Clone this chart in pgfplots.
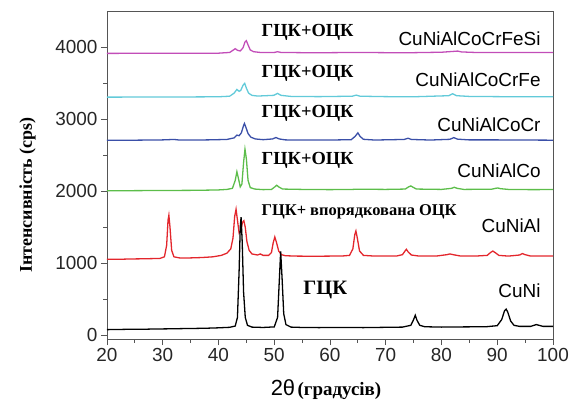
\documentclass[border=0pt]{standalone}
\usepackage{fontspec}
\setmainfont{Liberation Serif}
\setsansfont{Liberation Sans}
\usepackage{pgfplots}
\pgfplotsset{compat=1.18}

\definecolor{cCuNi}{HTML}{000000}
\definecolor{cAl}{HTML}{E3262C}
\definecolor{cCo}{HTML}{5CBD4A}
\definecolor{cCr}{HTML}{3A4FA8}
\definecolor{cFe}{HTML}{62CAD9}
\definecolor{cSi}{HTML}{C24DB8}
\definecolor{axgray}{HTML}{555555}

\newcommand{\lbl}{\bfseries\fontsize{18.5}{20}\selectfont}
\newcommand{\alloy}{\sffamily\fontsize{19}{21}\selectfont}

\begin{document}
\begin{tikzpicture}
\begin{axis}[
    name=ax,
    width=446bp, height=328bp,
    scale only axis,
    clip=false,
    axis lines=box,
    xmin=20, xmax=100,
    ymin=-50, ymax=4500,
    xtick={20,30,...,100},
    ytick={0,1000,2000,3000,4000},
    minor x tick num=1,
    minor y tick num=1,
    xtick pos=bottom, ytick pos=left,
    tick align=outside,
    major tick length=6bp,
    minor tick length=3.5bp,
    axis line style={draw=axgray, line width=0.9pt},
    tick style={axgray, line width=0.9pt},
    ticklabel style={font=\sffamily\fontsize{19}{21}\selectfont, text=black!85},
    xlabel={{\sffamily\fontsize{22}{24}\selectfont 2θ} {\bfseries\fontsize{19}{21}\selectfont (градусів)}},
    xlabel style={at={(rel axis cs:0.491,-0.155)}, anchor=center},
    ylabel={\bfseries\fontsize{18}{20}\selectfont Інтенсивність (cps)},
    ylabel style={at={(rel axis cs:-0.178,0.439)}, anchor=center, rotate=0},
    /pgf/number format/.cd, 1000 sep={}, assume math mode=true,
]
% CuNiAl
\addplot[cAl, line width=1.3pt] coordinates {
(20,1055) (22,1055) (24,1060) (26,1062) (28,1065) (29.5,1068) (30.3,1090) (30.7,1250)
(30.95,1600) (31.1,1667) (31.3,1500) (31.6,1180) (32,1090) (33,1075) (35,1075)
(37,1080) (39,1090) (40.5,1110) (41.5,1140) (42.2,1200) (42.6,1350) (42.9,1650)
(43.15,1750) (43.4,1600) (43.7,1420) (44.0,1450) (44.3,1570) (44.55,1590) (44.8,1500)
(45.1,1300) (45.5,1180) (46,1130) (47,1115) (47.5,1130) (48,1110) (49,1110)
(49.5,1150) (49.8,1280) (50.1,1365) (50.4,1290) (50.8,1170) (51.3,1120) (52,1105)
(54,1100) (57,1098) (60,1100) (62,1100) (63.5,1110) (64.1,1200) (64.45,1400)
(64.65,1449) (64.9,1350) (65.3,1170) (66,1110) (68,1100) (70,1100) (72,1102)
(73,1120) (73.45,1170) (73.7,1195) (74,1160) (74.6,1115) (76,1100) (79,1100)
(81,1120) (81.5,1130) (82.2,1118) (83.5,1100) (86,1100) (88.2,1110) (88.8,1150)
(89.2,1170) (89.6,1150) (90.3,1110) (92,1100) (94,1115) (94.5,1135) (95,1120)
(96,1100) (100,1100)};
% CuNi
\addplot[cCuNi, line width=1.3pt] coordinates {
(20,80) (22,82) (24,85) (26,84) (28,88) (30,90) (32,92) (34,95) (36,97) (38,100)
(40,105) (42,112) (43,130) (43.4,250) (43.7,900) (43.9,1500) (44.05,1640) (44.25,1300)
(44.5,600) (44.8,250) (45.2,140) (46,115) (48,110) (50,118) (50.6,250) (50.9,750)
(51.15,1165) (51.4,800) (51.7,300) (52.1,150) (53,115) (55,110) (58,108) (62,110)
(66,108) (70,112) (73,115) (74.5,140) (75,220) (75.3,280) (75.6,210) (76.1,140)
(77,120) (80,115) (84,118) (88,120) (90,135) (90.8,220) (91.3,340) (91.6,365)
(91.9,320) (92.4,200) (93,140) (94,125) (96,125) (96.6,140) (97,150) (97.5,140)
(98.2,125) (100,125)};
% CuNiAlCo
\addplot[cCo, line width=1.3pt] coordinates {
(20,2005) (25,2008) (30,2010) (35,2012) (38,2015) (40,2018) (41.5,2025) (42.5,2040)
(43.0,2150) (43.3,2270) (43.6,2170) (43.9,2060) (44.2,2100) (44.5,2400) (44.75,2583)
(45.0,2450) (45.3,2150) (45.7,2050) (46.5,2030) (48,2022) (49.5,2025) (50.1,2060)
(50.45,2083) (50.8,2060) (51.5,2030) (55,2025) (60,2022) (64,2025) (65,2028)
(70,2025) (73.5,2030) (74.1,2060) (74.5,2073) (74.9,2055) (75.5,2030) (80,2025)
(81.8,2040) (82.3,2055) (82.8,2040) (84,2025) (89,2028) (89.7,2040) (90.1,2045)
(90.6,2035) (92,2025) (96,2022) (100,2023)};
% CuNiAlCoCr
\addplot[cCr, line width=1.3pt] coordinates {
(20,2708) (25,2708) (30,2712) (32,2718) (33,2710) (38,2712) (41.5,2718) (42.8,2740)
(43.3,2778) (43.7,2770) (44.1,2810) (44.45,2900) (44.65,2940) (44.9,2890) (45.3,2800)
(45.8,2750) (46.6,2725) (48,2715) (49.7,2725) (50.3,2745) (50.9,2725) (52,2712)
(56,2710) (60,2710) (63.8,2715) (64.5,2760) (65.0,2810) (65.4,2760) (66,2720)
(68,2710) (73.3,2718) (74,2735) (74.6,2718) (78,2710) (81.5,2720) (82.2,2743)
(82.9,2722) (85,2712) (90,2712) (95,2710) (100,2708)};
% CuNiAlCoCrFe
\addplot[cFe, line width=1.3pt] coordinates {
(20,3305) (25,3306) (30,3308) (35,3308) (40,3310) (42,3318) (42.8,3360) (43.3,3412)
(43.7,3385) (44.0,3400) (44.4,3470) (44.7,3496) (45.0,3430) (45.4,3360) (46,3330)
(47,3320) (49.9,3330) (50.6,3357) (51.2,3330) (53,3315) (58,3312) (64,3318)
(64.7,3333) (65.4,3318) (70,3312) (75,3310) (81.3,3325) (82,3352) (82.7,3325)
(85,3315) (90,3312) (95,3310) (100,3310)};
% CuNiAlCoCrFeSi
\addplot[cSi, line width=1.3pt] coordinates {
(20,3912) (25,3913) (30,3914) (35,3915) (40,3915) (42,3925) (42.6,3955) (43.0,3977)
(43.4,3955) (43.9,3945) (44.4,3990) (44.75,4070) (45.0,4088) (45.3,4030) (45.7,3960)
(46.3,3935) (47.5,3925) (50,3925) (50.6,3935) (51.2,3925) (55,3922) (60,3922)
(65,3925) (70,3922) (75,3922) (80,3928) (82.2,3940) (82.9,3944) (83.6,3932)
(86,3925) (90,3925) (95,3924) (100,3925)};

\node[anchor=west] at (axis cs:47.1,4205) {\lbl ГЦК+ОЦК};
\node[anchor=west] at (axis cs:47.1,3630) {\lbl ГЦК+ОЦК};
\node[anchor=west] at (axis cs:47.1,3075) {\lbl ГЦК+ОЦК};
\node[anchor=west] at (axis cs:47.1,2423) {\lbl ГЦК+ОЦК};
\node[anchor=west] at (axis cs:47.1,1709) {\bfseries\fontsize{16.5}{19}\selectfont ГЦК+ впорядкована ОЦК};
\node[anchor=west] at (axis cs:54.6,627) {\bfseries\fontsize{20.5}{23}\selectfont ГЦК};

\node[anchor=east] at (axis cs:98.4,4122) {\alloy CuNiAlCoCrFeSi};
\node[anchor=east] at (axis cs:98.4,3553) {\alloy CuNiAlCoCrFe};
\node[anchor=east] at (axis cs:98.4,2929) {\alloy CuNiAlCoCr};
\node[anchor=east] at (axis cs:98.4,2289) {\alloy CuNiAlCo};
\node[anchor=east] at (axis cs:98.4,1528) {\alloy CuNiAl};
\node[anchor=east] at (axis cs:98.4,613) {\alloy CuNi};
\end{axis}
\useasboundingbox ([shift={(-107bp,-62bp)}]ax.south west) rectangle ([shift={(21bp,11bp)}]ax.north east);
\end{tikzpicture}
\end{document}
